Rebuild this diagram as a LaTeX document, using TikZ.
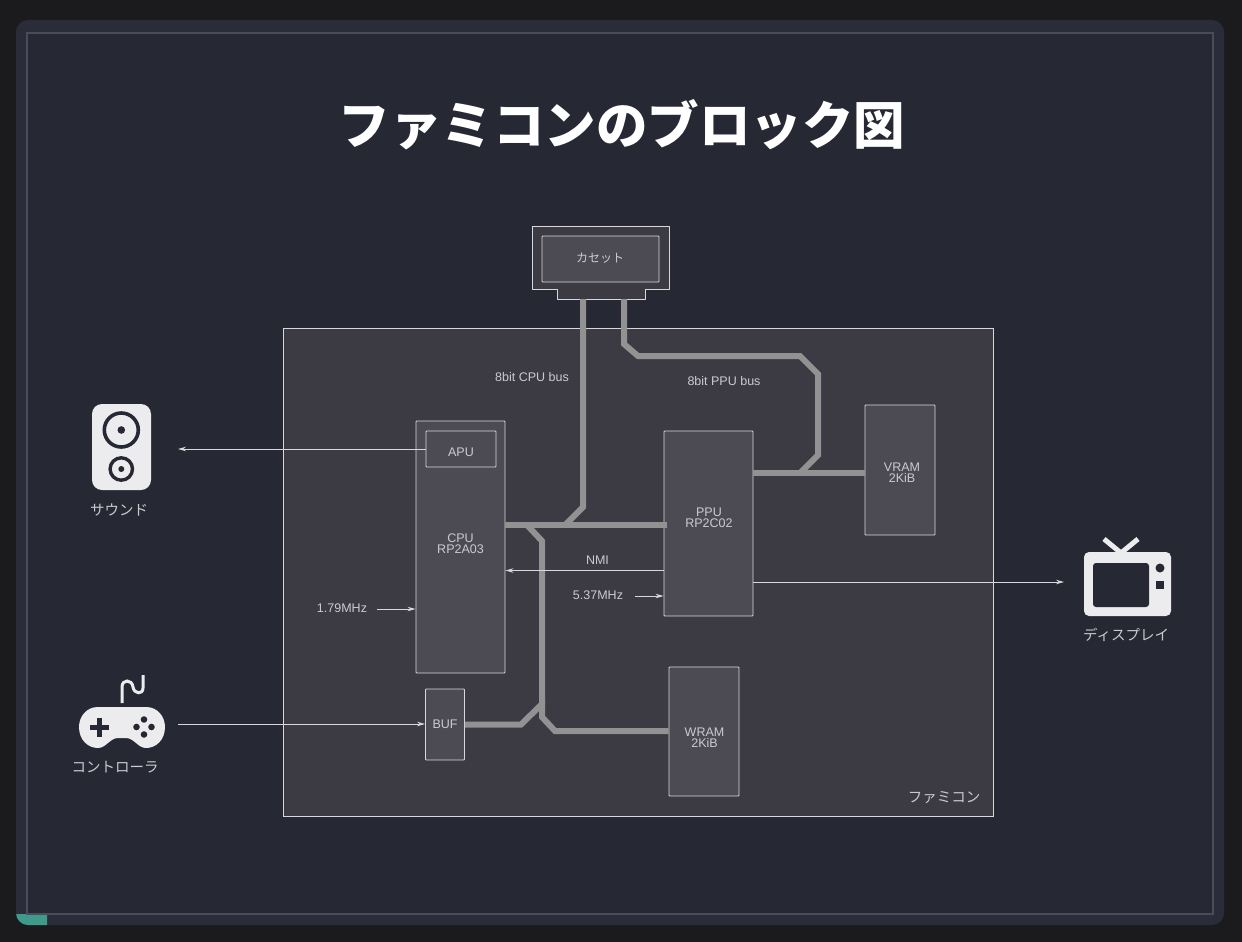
\documentclass[tikz,border=0pt]{standalone}
\usepackage{fontspec}
\setmainfont{Liberation Sans}
\newfontfamily\jp{Noto Sans CJK JP}
\usetikzlibrary{arrows.meta,calc}
\definecolor{pagebg}{HTML}{1B1B1D}
\definecolor{panel}{HTML}{2A2C39}
\definecolor{panelin}{HTML}{262833}
\definecolor{panelline}{HTML}{4A4C5A}
\definecolor{famifill}{HTML}{3C3B44}
\definecolor{chipfill}{HTML}{4C4B54}
\definecolor{linec}{HTML}{D8D8DA}
\definecolor{busc}{HTML}{929292}
\definecolor{textc}{HTML}{CBCBCE}
\definecolor{icon}{HTML}{ECECEE}
\definecolor{teal}{HTML}{3F9A8C}
\tikzset{
  x=1pt,y=-1pt,
  chip/.style={draw=linec,line width=0.9pt,fill=chipfill,inner sep=0pt,anchor=center,rounded corners=0.8pt},
  chiptext/.style={inner sep=0pt,font=\fontsize{12.5}{11}\selectfont,text=textc,align=center},
  label/.style={inner sep=0pt,font=\fontsize{12.5}{12}\selectfont,text=textc},
  jlabel/.style={inner sep=0pt,font=\jp\fontsize{14.5}{14}\selectfont,text=textc},
  bus/.style={draw=busc,line width=6pt,line join=miter},
  sig/.style={draw=linec,line width=0.9pt,-{Stealth[length=8pt,width=4.5pt]}},
  plain/.style={draw=linec,line width=0.9pt},
}
\begin{document}
\begin{tikzpicture}
\useasboundingbox (0,0) rectangle (1242,942);
\fill[pagebg] (0,0) rectangle (1242,942);
\fill[panel,rounded corners=12pt] (16,20) rectangle (1224,925);
\begin{scope}
  \clip (16,914) rectangle (47,925);
  \fill[teal,rounded corners=12pt] (16,880) rectangle (80,925);
\end{scope}
\fill[panelin] (27,33) rectangle (1213,914);
\draw[panelline,line width=1.5pt] (27,33) rectangle (1213,914);

\node[text=white,inner sep=0pt,font=\jp\bfseries\fontsize{51.5}{52}\selectfont] (title) at (622,125) {ファミコンのブロック図};

% famicom
\node[plain,fill=famifill,minimum width=710pt,minimum height=488pt,inner sep=0pt] (fami) at (638,572) {};
\node[jlabel] (familabel) at (944,798) {ファミコン};

% cassette
\path[plain,fill=famifill,line join=round] (532,226) -- (669,226) -- (669,289) -- (645,289) -- (645,299) -- (557,299) -- (557,289) -- (532,289) -- cycle;
\node[inner sep=0pt,minimum width=88pt,minimum height=0pt] (slot) at (601,299) {};
\node[chip,minimum width=117pt,minimum height=46pt] (cas) at (600.5,259) {};
\node[inner sep=0pt,font=\jp\fontsize{12}{12}\selectfont,text=textc] (castext) at (600,258) {カセット};

% junctions
\coordinate (jc) at (583,525);
\coordinate (jp) at (624,299);
\coordinate (jv) at (800,473);

% chips
\node[chip,minimum width=89pt,minimum height=252pt] (cpu) at (460.5,547) {};
\node[chiptext] (cputext) at (460.5,543.5) {CPU\\RP2A03};
\node[chip,minimum width=70pt,minimum height=36pt] (apu) at (461,449) {};
\node[chiptext] (aputext) at (461,452) {APU};
\node[chip,minimum width=89pt,minimum height=185pt] (ppu) at (708.5,523.5) {};
\node[chiptext] (pputext) at (709,517.5) {PPU\\RP2C02};
\node[chip,minimum width=70pt,minimum height=130pt] (vram) at (900,470) {};
\node[chiptext] (vramtext) at (902,472.5) {VRAM\\2KiB};
\node[chip,minimum width=70pt,minimum height=129pt] (wram) at (704,731.5) {};
\node[chiptext] (wramtext) at (704.5,737.5) {WRAM\\2KiB};
\node[chip,minimum width=39pt,minimum height=71pt] (buf) at (445,724.5) {};
\node[chiptext] (buftext) at (445,724.5) {BUF};

% buses
\draw[bus] (slot.south -| jc) -- (583,507) -- (565,525);
\draw[bus] (cpu.east |- jc) -- ($(ppu.west |- jc)+(3,0)$);
\draw[bus] (527,525) -- (542,541) -- (542,704) -- (521,724.5) -- (buf.east |- 0,724.5);
\draw[bus] (542,700) -- (542,717) -- (555,731) -- (wram.west |- 0,731);
\draw[bus] (slot.south -| jp) -- (624,344) -- (638,356) -- (800,356) -- (818,374) -- (818,455) -- (800,473);
\draw[bus] (ppu.east |- jv) -- (vram.west |- jv);

% speaker icon
\node[fill=icon,rounded corners=10pt,minimum width=59pt,minimum height=86pt,inner sep=0pt] (speaker) at (121.5,447) {};
\draw[panelin,line width=3.6pt] (121.3,430) circle[radius=17];
\fill[panelin] (121.3,430) circle[radius=3.8];
\draw[panelin,line width=3.4pt] (121.3,469) circle[radius=11.2];
\fill[panelin] (121.3,469) circle[radius=3];
\node[jlabel] (soundlabel) at (119,510) {サウンド};

% controller icon
\coordinate (pad) at (122,727);
\draw[icon,line width=3pt] (122,703) -- (122,687) .. controls (122,679) and (132,679) .. (133,687) .. controls (134,694) and (143,695) .. (143,688) -- (143,675);
\fill[icon] (98,707) -- (146,707) .. controls (158,707) and (165,717) .. (165,727) .. controls (165,740) and (156,748) .. (146,748) .. controls (138,748) and (134,738) .. (126,738) -- (118,738) .. controls (110,738) and (106,748) .. (98,748) .. controls (88,748) and (79,740) .. (79,727) .. controls (79,717) and (86,707) .. (98,707) -- cycle;
\node[inner sep=0pt,minimum width=86pt,minimum height=41pt] (gamepad) at (pad) {};
\fill[panelin] (90,724.7) rectangle (108.5,730.3);
\fill[panelin] (96.5,718) rectangle (102,737);
\foreach \dx/\dy in {0/-7.5,-7.5/0,7.5/0,0/7.5}
  \fill[panelin] ($(144,727)+(\dx,\dy)$) circle[radius=3.3];
\node[jlabel] (padlabel) at (115,767) {コントローラ};

% tv icon
\draw[icon,line width=5pt] (1104,539) -- (1121,553) -- (1138,539);
\node[fill=icon,rounded corners=5pt,minimum width=87pt,minimum height=64pt,inner sep=0pt] (tv) at (1127.5,584) {};
\fill[panelin,rounded corners=3pt] (1093,563) rectangle (1149,607);
\fill[panelin] (1160,568) circle[radius=4.5];
\fill[panelin] (1156,581) rectangle (1164,589);
\node[jlabel] (tvlabel) at (1126,635) {ディスプレイ};

% free ends
\coordinate (soundend) at (178,449);
\coordinate (padstart) at (178,724);
\coordinate (tvend) at (1064,582);
\coordinate (ck179) at (377,609);
\coordinate (ck537) at (635,596);

% signals
\draw[sig] (apu.west |- soundend) -- (soundend);
\draw[sig] (ppu.west |- 0,570.5) -- (cpu.east |- 0,570.5);
\draw[sig] (ck537) -- (ppu.west |- ck537);
\draw[sig] (ck179) -- (cpu.west |- ck179);
\draw[sig] (padstart) -- (buf.west |- padstart);
\draw[sig] (ppu.east |- tvend) -- (tvend);

% labels
\node[label] (cpubus) at (532,377) {8bit CPU bus};
\node[label] (ppubus) at (724,381) {8bit PPU bus};
\node[label] (nmi) at (597.5,560) {NMI};
\node[label] (f537) at (598,595) {5.37MHz};
\node[label] (f179) at (342,608) {1.79MHz};
\end{tikzpicture}
\end{document}
